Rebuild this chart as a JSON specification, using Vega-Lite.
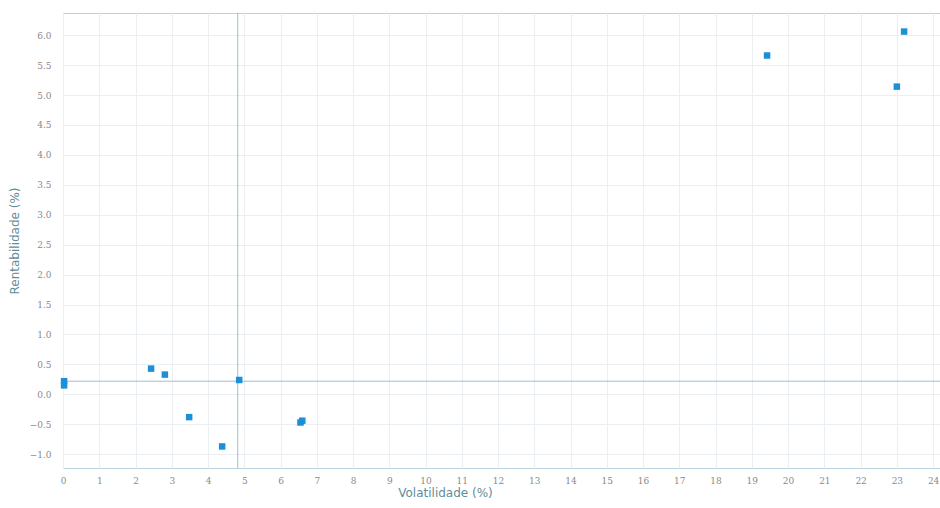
{
  "$schema": "https://vega.github.io/schema/vega-lite/v6.json",
  "width": 877,
  "height": 455,
  "autosize": {"type": "none"},
  "padding": {"left": 63, "top": 13, "right": 0, "bottom": 40},
  "background": "white",
  "config": {
    "view": {"stroke": "#b9d3df", "strokeWidth": 1},
    "axis": {
      "grid": true,
      "gridColor": "#e9eff3",
      "gridWidth": 1,
      "domain": false,
      "ticks": false,
      "labelOverlap": false,
      "labelFlush": false,
      "labelBound": false,
      "labelFont": "DejaVu Serif",
      "labelFontSize": 9,
      "labelColor": "#8a8a8a",
      "titleFont": "DejaVu Sans",
      "titleFontSize": 12,
      "titleFontWeight": "normal",
      "titleColor": "#5f8d99"
    }
  },
  "datasets": {
    "pts": [
      {"vol": 0.03, "rent": 0.22},
      {"vol": 0.03, "rent": 0.15},
      {"vol": 2.43, "rent": 0.43},
      {"vol": 2.81, "rent": 0.33},
      {"vol": 3.48, "rent": -0.38},
      {"vol": 4.39, "rent": -0.87},
      {"vol": 4.86, "rent": 0.24},
      {"vol": 6.55, "rent": -0.47},
      {"vol": 6.6, "rent": -0.44},
      {"vol": 19.42, "rent": 5.66},
      {"vol": 23.2, "rent": 6.06},
      {"vol": 23.0, "rent": 5.14}
    ],
    "refx": [{"vol": 4.82}],
    "refy": [{"rent": 0.22}]
  },
  "layer": [
    {
      "data": {"name": "refx"},
      "mark": {"type": "rule", "color": "#9fbdcd", "strokeWidth": 1},
      "encoding": {
        "x": {
          "field": "vol", "type": "quantitative",
          "scale": {"domain": [0, 24.19], "nice": false, "zero": false},
          "axis": {"title": "Volatilidade (%)", "values": [0,1,2,3,4,5,6,7,8,9,10,11,12,13,14,15,16,17,18,19,20,21,22,23,24], "format": "d", "labelPadding": 8, "titlePadding": 2, "titleX": 382}
        }
      }
    },
    {
      "data": {"name": "refy"},
      "mark": {"type": "rule", "color": "#9fbdcd", "strokeWidth": 1},
      "encoding": {
        "y": {
          "field": "rent", "type": "quantitative",
          "scale": {"domain": [-1.23, 6.37], "nice": false, "zero": false},
          "axis": {"title": "Rentabilidade (%)", "values": [-1,-0.5,0,0.5,1,1.5,2,2.5,3,3.5,4,4.5,5,5.5,6], "format": ".1f", "labelPadding": 12, "titlePadding": 8}
        }
      }
    },
    {
      "data": {"name": "pts"},
      "mark": {"type": "square", "filled": true, "color": "#1b8fd8", "size": 42, "opacity": 1},
      "encoding": {
        "x": {
          "field": "vol", "type": "quantitative",
          "scale": {"domain": [0, 24.19], "nice": false, "zero": false},
          "axis": {"title": "Volatilidade (%)", "values": [0,1,2,3,4,5,6,7,8,9,10,11,12,13,14,15,16,17,18,19,20,21,22,23,24], "format": "d", "labelPadding": 8, "titlePadding": 2, "titleX": 382}
        },
        "y": {
          "field": "rent", "type": "quantitative",
          "scale": {"domain": [-1.23, 6.37], "nice": false, "zero": false},
          "axis": {"title": "Rentabilidade (%)", "values": [-1,-0.5,0,0.5,1,1.5,2,2.5,3,3.5,4,4.5,5,5.5,6], "format": ".1f", "labelPadding": 12, "titlePadding": 8}
        }
      }
    }
  ]
}
